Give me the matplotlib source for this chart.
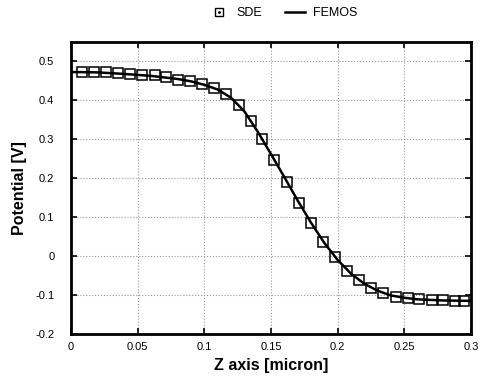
import matplotlib
matplotlib.use("Agg")
import matplotlib.pyplot as plt
from matplotlib.lines import Line2D

plt.rcParams['font.family'] = ['Liberation Sans', 'DejaVu Sans']
plt.rcParams['axes.unicode_minus'] = False

# SDE points (markers)
sde_z = [0.008, 0.0175, 0.026, 0.0355, 0.0445, 0.0535, 0.063, 0.0715, 0.0805,
         0.0895, 0.0985, 0.1075, 0.1165, 0.126, 0.135, 0.1435, 0.1525, 0.162,
         0.171, 0.180, 0.189, 0.198, 0.207, 0.216, 0.225, 0.234, 0.244, 0.2525,
         0.261, 0.2705, 0.279, 0.288, 0.295]
sde_v = [0.4726, 0.4726, 0.472, 0.470, 0.4675, 0.466, 0.464, 0.460, 0.453,
         0.449, 0.443, 0.433, 0.416, 0.388, 0.348, 0.300, 0.247, 0.191,
         0.136, 0.084, 0.037, -0.003, -0.037, -0.062, -0.081, -0.095, -0.104, -0.108,
         -0.111, -0.1125, -0.113, -0.114, -0.114]

# FEMOS curve
femos_z = [0, 0.02, 0.04, 0.06, 0.08, 0.09, 0.10, 0.11, 0.12, 0.13, 0.14, 0.15,
           0.16, 0.17, 0.18, 0.19, 0.20, 0.21, 0.22, 0.23, 0.24, 0.25, 0.26, 0.28, 0.30]
femos_v = [0.473, 0.472, 0.468, 0.463, 0.455, 0.449, 0.440, 0.428, 0.407, 0.372,
           0.320, 0.262, 0.203, 0.143, 0.086, 0.034, -0.010, -0.045, -0.071, -0.089,
           -0.101, -0.107, -0.111, -0.114, -0.115]

fig = plt.figure(figsize=(4.84, 3.82), dpi=100)
ax = fig.add_axes([0.1467, 0.1257, 0.8264, 0.7643])

ax.plot(femos_z, femos_v, color='black', lw=1.8, zorder=3)
ax.plot(sde_z, sde_v, ls='none', marker='s', ms=7.2, mfc='none', mec='black',
        mew=1.1, zorder=4)

ax.set_xlim(0, 0.3)
ax.set_ylim(-0.2, 0.55)
ax.set_xticks([0, 0.05, 0.1, 0.15, 0.2, 0.25, 0.3])
ax.set_yticks([-0.2, -0.1, 0, 0.1, 0.2, 0.3, 0.4, 0.5])
ax.set_xticklabels(['0', '0.05', '0.1', '0.15', '0.2', '0.25', '0.3'])
ax.set_yticklabels(['-0.2', '-0.1', '0', '0.1', '0.2', '0.3', '0.4', '0.5'])
ax.tick_params(direction='in', top=True, right=True, length=4, width=1.2,
               labelsize=8)
ax.tick_params(axis='y', pad=12)
ax.tick_params(axis='x', pad=6)
ax.grid(True, color='#999999', ls=':', lw=0.8)
for s in ax.spines.values():
    s.set_linewidth(2)

ax.set_xlabel('Z axis [micron]', fontsize=11.5, fontweight='bold', labelpad=4)
ax.set_ylabel('Potential [V]', fontsize=11.5, fontweight='bold', labelpad=6)

sq = Line2D([], [], ls='none', marker='s', ms=6, mfc='none', mec='black', mew=1)
dot = Line2D([], [], ls='none', marker='.', ms=2, color='black')
ln = Line2D([], [], color='black', lw=1.8)
fig.legend([(sq, dot), ln], ['SDE', 'FEMOS'], ncol=2, frameon=False,
           loc='center', bbox_to_anchor=(0.585, 0.966), fontsize=9,
           handlelength=1.6, columnspacing=1.8, handletextpad=0.6)

fig.savefig('out.png', dpi=100)
